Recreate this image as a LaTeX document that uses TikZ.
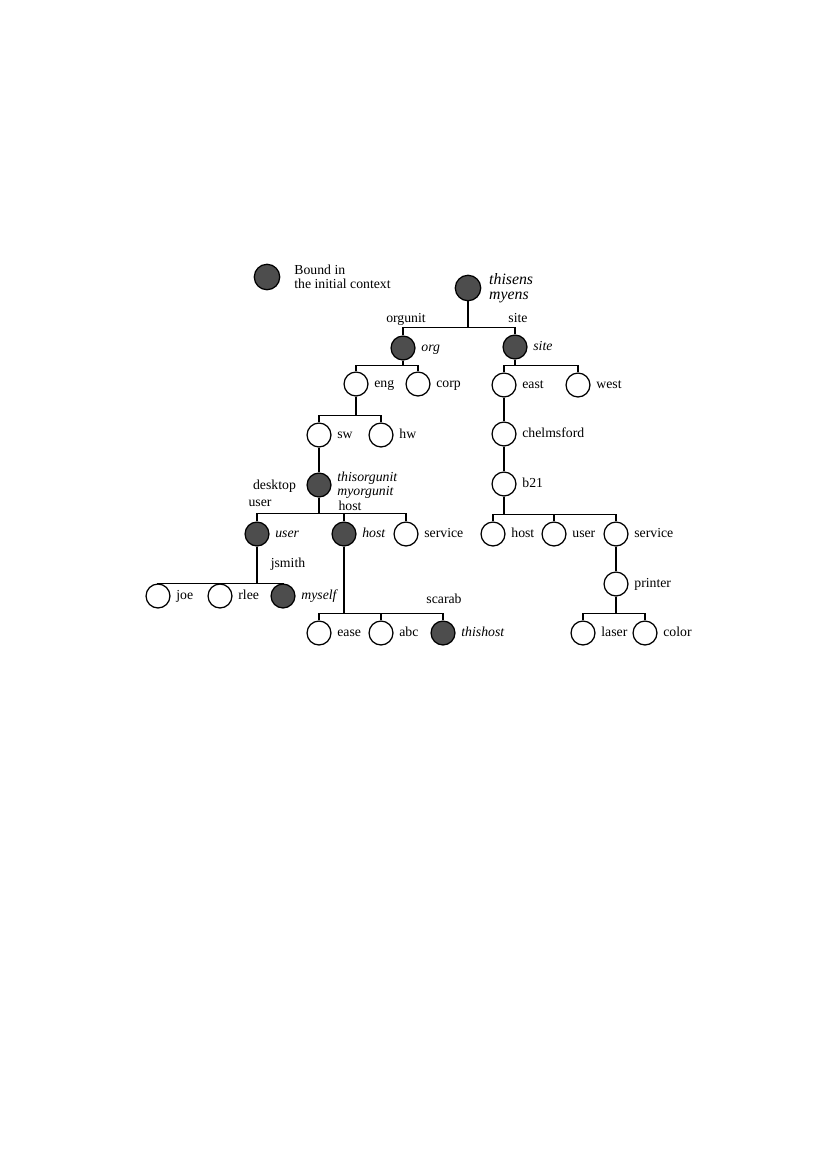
\documentclass[tikz,border=0pt]{standalone}
\usepackage{fontspec}
\setmainfont{Liberation Serif}
\definecolor{boundgray}{RGB}{77,77,77}
\begin{document}
\begin{tikzpicture}[x=0.72683pt,y=-0.72683pt,
  every node/.style={font=\fontsize{10}{10}\selectfont},
  nd/.style={circle,draw,line width=0.9pt,minimum size=17.4pt,inner sep=0pt,fill=white},
  bd/.style={nd,fill=boundgray},
  lbl/.style={anchor=west,inner sep=1pt,xshift=3pt,text height=0.7em,text depth=0.2em},
  ilbl/.style={lbl,font=\fontsize{10}{10}\selectfont\itshape},
  ml/.style={anchor=west,align=left,inner sep=1pt,xshift=3pt},
  elbl/.style={anchor=base,inner sep=0pt},
  conn/.style={line width=0.9pt}]
\useasboundingbox (0,0) rectangle (819,1157);

% legend
\node[bd,minimum size=18.5pt] (leg) at (267,277) {};
\node[ml,xshift=6pt,font=\fontsize{10}{9.8}\selectfont] (legL) at (leg.east) {Bound in\\the initial context};

% nodes
\node[bd,minimum size=18.5pt] (root) at (468,288) {};
\node[bd] (org) at (403,348) {};
\node[bd] (site) at (515,347) {};
\node[nd] (eng) at (356,384) {};
\node[nd] (corp) at (418,384) {};
\node[nd] (east) at (504,385) {};
\node[nd] (west) at (578,385) {};
\node[nd] (sw) at (319,435) {};
\node[nd] (hw) at (381,435) {};
\node[bd] (tou) at (319,485) {};
\node[bd] (user) at (257,534) {};
\node[bd] (host) at (344,534) {};
\node[nd] (service) at (406,534) {};
\node[nd] (joe) at (158,596) {};
\node[nd] (rlee) at (220,596) {};
\node[bd] (myself) at (283,596) {};
\node[nd] (ease) at (319,633) {};
\node[nd] (abc) at (381,633) {};
\node[bd] (thishost) at (443,633) {};
\node[nd] (chelm) at (504,434) {};
\node[nd] (b21) at (504,484) {};
\node[nd] (hostb) at (493,534) {};
\node[nd] (userb) at (554,534) {};
\node[nd] (serviceb) at (616,534) {};
\node[nd] (printer) at (616,584) {};
\node[nd] (laser) at (583,633) {};
\node[nd] (color) at (645,633) {};

% node labels
\node[ml,xshift=1.5pt,font=\fontsize{11.5}{10.5}\selectfont\itshape] (rootL) at (root.east) {thisens\\myens};
\node[ilbl] (orgL) at (org.east) {org};
\node[ilbl] (siteL) at (site.east) {site};
\node[lbl] (engL) at (eng.east) {eng};
\node[lbl] (corpL) at (corp.east) {corp};
\node[lbl] (eastL) at (east.east) {east};
\node[lbl] (westL) at (west.east) {west};
\node[lbl] (swL) at (sw.east) {sw};
\node[lbl] (hwL) at (hw.east) {hw};
\node[ml,font=\fontsize{10}{10.2}\selectfont\itshape] (touL) at (tou.east) {thisorgunit\\myorgunit};
\node[ilbl] (userL) at (user.east) {user};
\node[ilbl] (hostL) at (host.east) {host};
\node[lbl] (serviceL) at (service.east) {service};
\node[lbl] (joeL) at (joe.east) {joe};
\node[lbl] (rleeL) at (rlee.east) {rlee};
\node[ilbl] (myselfL) at (myself.east) {myself};
\node[lbl] (easeL) at (ease.east) {ease};
\node[lbl] (abcL) at (abc.east) {abc};
\node[ilbl] (thishostL) at (thishost.east) {thishost};
\node[lbl] (chelmL) at (chelm.east) {chelmsford};
\node[lbl] (b21L) at (b21.east) {b21};
\node[lbl] (hostbL) at (hostb.east) {host};
\node[lbl] (userbL) at (userb.east) {user};
\node[lbl] (servicebL) at (serviceb.east) {service};
\node[lbl] (printerL) at (printer.east) {printer};
\node[lbl] (laserL) at (laser.east) {laser};
\node[lbl] (colorL) at (color.east) {color};

% edge labels
\node[elbl] (orgunitE) at (406,322.5) {orgunit};
\node[elbl] (siteE) at (518,322.5) {site};
\node[elbl] (desktopE) at (274.5,489) {desktop};
\node[elbl] (userE) at (260,506.5) {user};
\node[elbl] (hostE) at (350,510) {host};
\node[elbl] (jsmithE) at (288,567.5) {jsmith};
\node[elbl] (scarabE) at (444,603) {scarab};

% connectors
\foreach \c in {org,site} \draw[conn] (root.south) -- ++(0,26) -| (\c.north);
\foreach \c in {eng,corp} \draw[conn] (org.south) -- ++(0,5) -| (\c.north);
\foreach \c in {east,west} \draw[conn] (site.south) -- ++(0,6) -| (\c.north);
\foreach \c in {sw,hw} \draw[conn] (eng.south) -- ++(0,19) -| (\c.north);
\draw[conn] (sw.south) -- (tou.north);
\foreach \c in {user,host,service} \draw[conn] (tou.south) -- ++(0,16) -| (\c.north);
\foreach \c in {joe,rlee,myself} \draw[conn] (user.south) -- ++(0,37) -| (\c.north);
\foreach \c in {ease,abc,thishost} \draw[conn] (host.south) -- ++(0,67) -| (\c.north);
\draw[conn] (east.south) -- (chelm.north);
\draw[conn] (chelm.south) -- (b21.north);
\foreach \c in {hostb,userb,serviceb} \draw[conn] (b21.south) -- ++(0,18) -| (\c.north);
\draw[conn] (serviceb.south) -- (printer.north);
\foreach \c in {laser,color} \draw[conn] (printer.south) -- ++(0,17) -| (\c.north);
\end{tikzpicture}
\end{document}
